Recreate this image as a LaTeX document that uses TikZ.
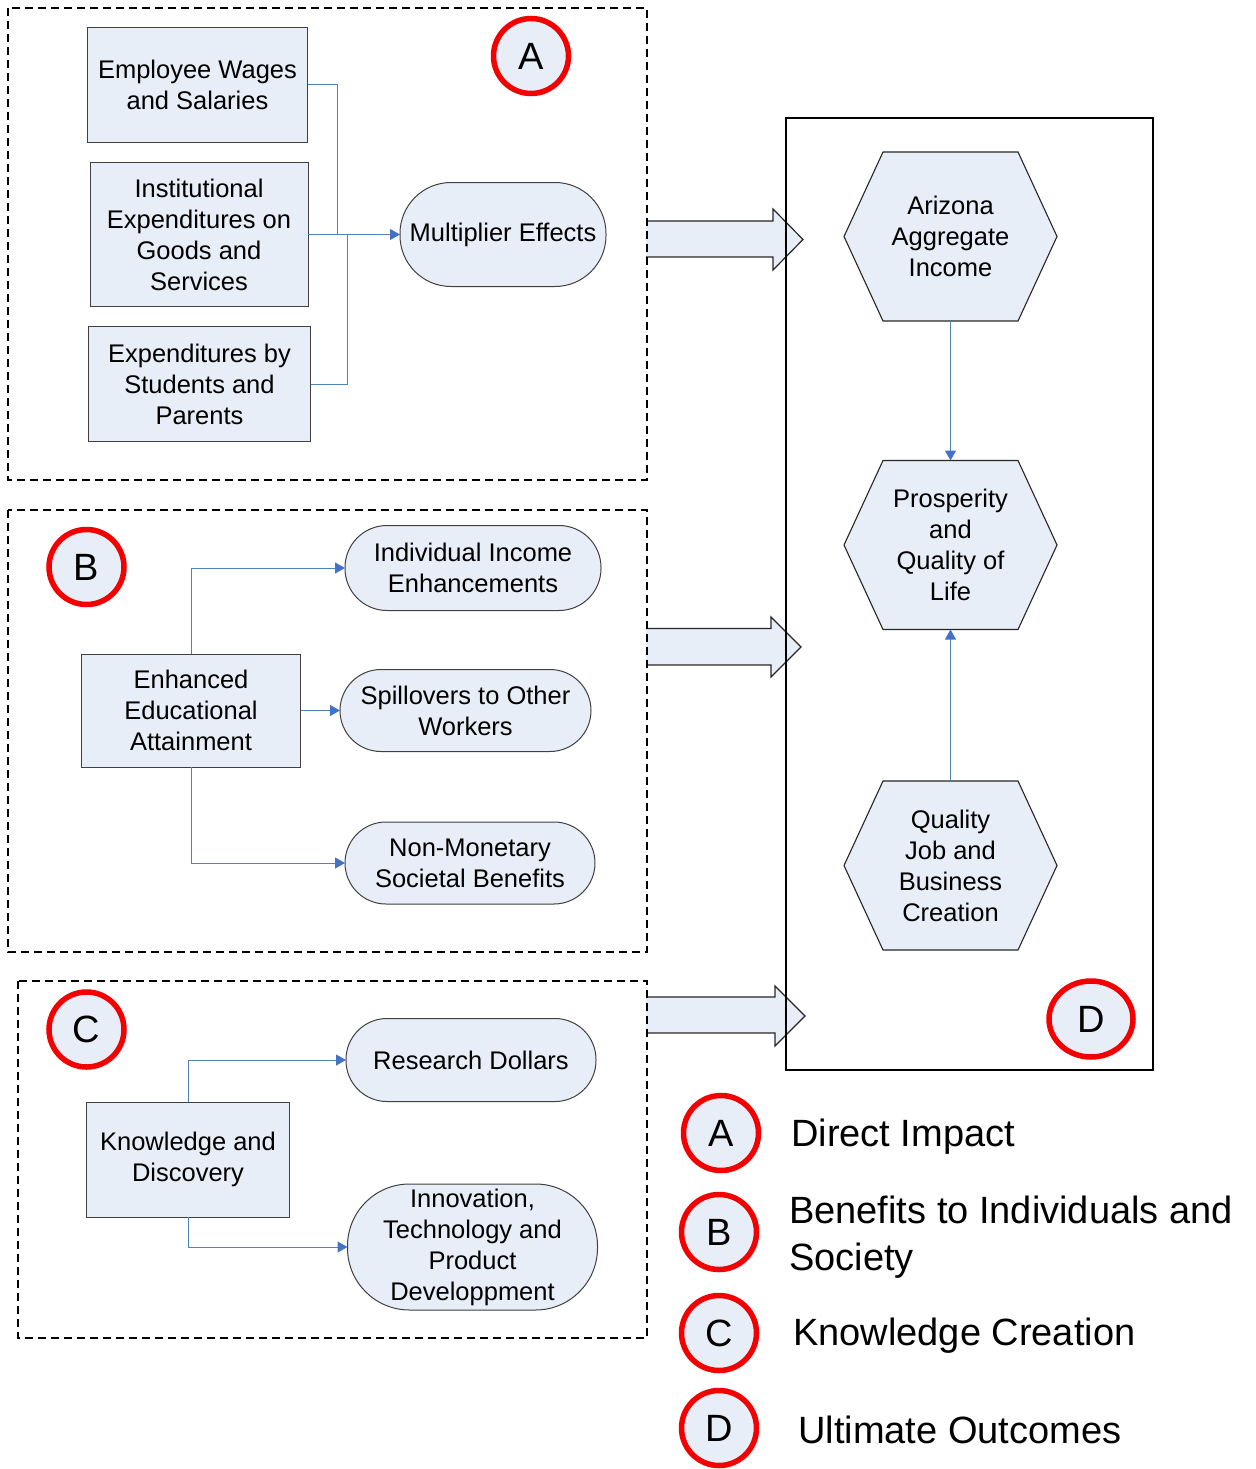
\documentclass[tikz,border=0pt]{standalone}
\usepackage{fontspec}
\setmainfont{Liberation Sans}
\usetikzlibrary{arrows.meta,shapes.geometric,backgrounds}
\definecolor{fillb}{RGB}{232,238,247}
\definecolor{lineb}{RGB}{79,129,189}
\definecolor{tipb}{RGB}{68,114,196}
\definecolor{redc}{RGB}{245,0,0}
\begin{document}
\begin{tikzpicture}[x=1pt,y=-1pt,
  txt/.style={font=\fontsize{25.5}{31}\selectfont, align=center},
  box/.style={txt, draw=black!75, line width=1pt, fill=fillb, inner sep=0pt, outer sep=0pt},
  pill/.style={box, rounded corners=#1},
  hexnode/.style={txt, inner sep=0pt, outer sep=0pt, minimum width=213pt, minimum height=169pt},
  hexdraw/.style={draw=black!85, line width=1.1pt, fill=fillb},
  conn/.style={draw=lineb, line width=1pt, -{Triangle[length=10pt,width=11pt,color=tipb]}},
  connline/.style={draw=lineb, line width=1pt},
  badge/.style={circle, draw=redc, line width=5.5pt, fill=fillb, minimum size=75pt, inner sep=0pt,
    font=\fontsize{38}{40}\selectfont},
  legtxt/.style={font=\fontsize{38}{47}\selectfont, align=left, inner sep=0pt, anchor=west},
  dashbox/.style={draw=black, line width=2.5pt, dash pattern=on 8pt off 5pt},
  blockarrow/.style={fill=fillb},
  blockedge/.style={draw=black!85, line width=1.2pt}
]
\useasboundingbox (0,0) rectangle (1255,1469);

% ---------- block arrows ----------
\fill[blockarrow] (646,221) -- (773,221) -- (773,209) -- (803,239.5) -- (773,270) -- (773,257) -- (646,257) -- cycle;
\draw[blockedge] (646,221) -- (773,221) -- (773,209) -- (803,239.5) -- (773,270) -- (773,257) -- (646,257);
\fill[blockarrow] (646,628.5) -- (771,628.5) -- (771,617) -- (801,647) -- (771,677) -- (771,665) -- (646,665) -- cycle;
\draw[blockedge] (646,628.5) -- (771,628.5) -- (771,617) -- (801,647) -- (771,677) -- (771,665) -- (646,665);
\fill[blockarrow] (646,997) -- (775,997) -- (775,986) -- (805,1016) -- (775,1046) -- (775,1033) -- (646,1033) -- cycle;
\draw[blockedge] (646,997) -- (775,997) -- (775,986) -- (805,1016) -- (775,1046) -- (775,1033) -- (646,1033);

% ---------- group frames ----------
\draw[dashbox] (8,8) rectangle (647,480);
\draw[dashbox] (8,510) rectangle (647,952);
\draw[dashbox] (18,981) rectangle (647,1338);
\draw[black, line width=2.5pt] (786,118) rectangle (1153,1070);

% ---------- A ----------
\node[box, minimum width=220pt, minimum height=115pt] (emp) at (197.5,85) {Employee Wages\\and Salaries};
\node[box, minimum width=218pt, minimum height=144pt] (inst) at (199,234.5) {Institutional\\Expenditures on\\Goods and\\Services};
\node[box, minimum width=222pt, minimum height=115pt] (stud) at (199.5,384) {Expenditures by\\Students and\\Parents};
\node[pill=51pt, minimum width=206pt, minimum height=104pt] (mult) at (503,234.5) {Multiplier Effects};
\node[badge] (ba) at (531,56) {A};
\draw[connline] (emp.east) -- ++(30,0) |- (mult.west);
\draw[connline] (stud.east) -- ++(37,0) |- (mult.west);
\draw[conn] (inst.east) -- (mult.west);

% ---------- D ----------
\node[hexnode] (hex1) at (950.5,236.5) {Arizona\\Aggregate\\Income};
\node[hexnode] (hex2) at (950.5,545) {Prosperity\\and\\Quality of\\Life};
\node[hexnode] (hex3) at (950.5,865.5) {Quality\\Job and\\Business\\Creation};
\begin{scope}[on background layer]
\foreach \h in {hex1,hex2,hex3}{
  \draw[hexdraw] (\h.west) -- ([xshift=39pt]\h.north west) -- ([xshift=-39pt]\h.north east)
    -- (\h.east) -- ([xshift=-39pt]\h.south east) -- ([xshift=39pt]\h.south west) -- cycle;
}
\end{scope}
\draw[conn] (hex1.south) -- (hex2.north);
\draw[conn] (hex3.north) -- (hex2.south);
\node[ellipse, draw=redc, line width=5.5pt, fill=fillb, minimum width=84pt, minimum height=76pt,
  inner sep=0pt, font=\fontsize{38}{40}\selectfont] (bd) at (1091,1019) {D};

% ---------- B ----------
\node[badge] (bb) at (86.5,567) {B};
\node[box, minimum width=219pt, minimum height=113pt] (enh) at (191,710.5) {Enhanced\\Educational\\Attainment};
\node[pill=42pt, minimum width=256pt, minimum height=85pt] (ind) at (473,568) {Individual Income\\Enhancements};
\node[pill=41pt, minimum width=251pt, minimum height=82pt] (spill) at (465.5,710.5) {Spillovers to Other\\Workers};
\node[pill=41pt, minimum width=250pt, minimum height=82pt] (nonm) at (470,863) {Non-Monetary\\Societal Benefits};
\draw[conn] (enh.north) |- (ind.west);
\draw[conn] (enh.east) -- (spill.west);
\draw[conn] (enh.south) |- (nonm.west);

% ---------- C ----------
\node[badge] (bc) at (86.5,1029.5) {C};
\node[box, minimum width=203pt, minimum height=115pt] (know) at (188,1159.5) {Knowledge and\\Discovery};
\node[pill=41pt, minimum width=250pt, minimum height=83pt] (res) at (471,1060) {Research Dollars};
\node[pill=62pt, minimum width=250pt, minimum height=126pt] (innov) at (472.5,1247) {Innovation,\\Technology and\\Product\\Developpment};
\draw[conn] (know.north) |- (res.west);
\draw[conn] (know.south) |- (innov.west);

% ---------- legend ----------
\node[badge] (la) at (721,1133) {A};
\node[badge] (lb) at (719,1232) {B};
\node[badge] (lc) at (719,1333) {C};
\node[badge] (ld) at (719,1428) {D};
\node[legtxt] (ta) at (791,1137) {Direct Impact};
\node[legtxt] (tb) at (789,1237.5) {Benefits to Individuals and\\Society};
\node[legtxt] (tc) at (793,1336) {Knowledge Creation};
\node[legtxt] (td) at (798,1430) {Ultimate Outcomes};
\end{tikzpicture}
\end{document}
